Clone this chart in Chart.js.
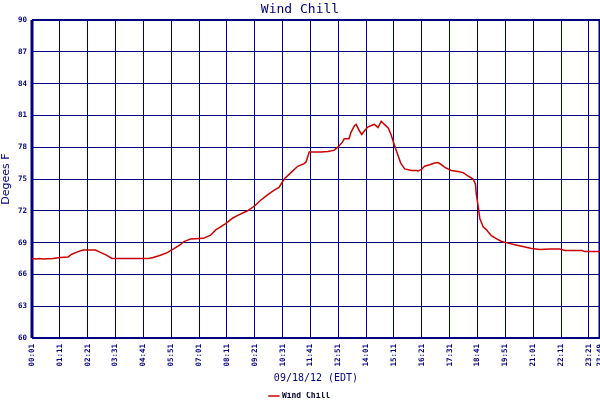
<!DOCTYPE html>
<html>
<head>
<meta charset="utf-8">
<script src="https://cdn.jsdelivr.net/npm/chart.js@4/dist/chart.umd.min.js"></script>
<style>
  html, body { margin: 0; padding: 0; background: #fff; }
  #wrap { width: 600px; height: 400px; }
</style>
</head>
<body>
<div id="wrap"><canvas id="wind-chill"></canvas></div>
<script>
// readings, 09/18/12
var times = ["00:01","00:12","00:20","00:28","00:54","01:12","01:32","01:41","01:57","02:10",
  "02:40","02:52","03:09","03:22","04:00","04:54","05:06","05:24","05:41","05:57",
  "06:14","06:23","06:40","07:12","07:30","07:43","08:08","08:25","08:37","09:03",
  "09:22","09:36","09:53","10:10","10:22","10:35","10:52","11:09","11:25","11:30",
  "11:38","12:08","12:25","12:40","12:50","13:02","13:06","13:18","13:23","13:32",
  "13:36","13:44","13:50","13:57","14:05","14:14","14:22","14:31","14:39","14:47",
  "14:57","15:04","15:12","15:21","15:28","15:38","15:55","16:07","16:12","16:20",
  "16:28","16:41","16:53","17:02","17:10","17:19","17:35","17:52","18:05","18:17",
  "18:30","18:36","18:38","18:43","18:47","18:51","18:55","19:04","19:08","19:16",
  "19:29","19:42","19:58","20:15","20:32","20:57","21:18","21:43","22:08","22:21",
  "23:03","23:11","23:49"];

var windChill = [67.5,67.45,67.5,67.45,67.5,67.6,67.65,67.9,68.15,68.3,
  68.3,68.1,67.8,67.5,67.5,67.5,67.6,67.8,68.05,68.4,
  68.8,69.1,69.35,69.4,69.7,70.2,70.8,71.3,71.55,72.0,
  72.5,73.0,73.5,73.95,74.2,75.0,75.6,76.2,76.45,76.6,
  77.55,77.55,77.6,77.7,78.0,78.5,78.8,78.8,79.4,80.05,
  80.15,79.55,79.2,79.55,79.9,80.05,80.15,79.85,80.45,80.15,
  79.8,79.15,78.2,77.25,76.5,75.95,75.8,75.8,75.75,75.9,
  76.2,76.35,76.5,76.55,76.35,76.1,75.8,75.7,75.6,75.3,
  75.0,74.5,73.6,72.35,71.25,70.9,70.5,70.2,70.0,69.65,
  69.35,69.1,68.95,68.8,68.65,68.45,68.35,68.4,68.4,68.25,
  68.25,68.15,68.15];

var tickLabels = ["00:01","01:11","02:21","03:31","04:41","05:51","07:01","08:11","09:21","10:31",
  "11:41","12:51","14:01","15:11","16:21","17:31","18:41","19:51","21:01","22:11","23:21","23:49"];

var navy = "#000080";
var mono = "'DejaVu Sans Mono', monospace";

function toMin(t){
    var p = t.split(":");
    return parseInt(p[0]) * 60 + parseInt(p[1]);
}
function toLabel(m){
    var h = Math.floor(m / 60), mm = m % 60;
    return (h < 10 ? "0" : "") + h + ":" + (mm < 10 ? "0" : "") + mm;
}

var points = [];
for (var i = 0; i < times.length; i++) {
    points.push({x: toMin(times[i]), y: windChill[i]});
}
var tickMins = tickLabels.map(toMin);

// heavy frame round the plot area
var frame = {
    id: "frame",
    beforeDatasetsDraw: function(chart){
        var a = chart.chartArea, c = chart.ctx;
        c.save();
        c.strokeStyle = navy;
        c.lineWidth = 3;
        c.beginPath();
        c.moveTo(a.left, a.top); c.lineTo(a.left, a.bottom);
        c.moveTo(a.right, a.top); c.lineTo(a.right, a.bottom);
        c.stroke();
        c.lineWidth = 2;
        c.beginPath();
        c.moveTo(a.left, a.top); c.lineTo(a.right, a.top);
        c.moveTo(a.left, a.bottom); c.lineTo(a.right, a.bottom);
        c.stroke();
        c.restore();
    }
};

var ctx = document.getElementById("wind-chill");
var chart = new Chart(ctx, {
    type: "line",
    data: {
        datasets: [{
            label: "Wind Chill",
            data: points,
            borderColor: "#cc0000",
            backgroundColor: "#cc0000",
            borderWidth: 1.5,
            pointRadius: 0,
            tension: 0,
            fill: false
        }]
    },
    options: {
        responsive: true,
        maintainAspectRatio: false,
        animation: false,
        layout: { padding: { top: 0, left: 0, right: 0, bottom: -10 } },
        plugins: {
            title: {
                display: true,
                text: "Wind Chill",
                color: navy,
                font: { family: mono, size: 13, weight: "normal" },
                padding: { top: 2, bottom: 2.4 }
            },
            legend: {
                position: "bottom",
                labels: {
                    color: "#000033",
                    font: { family: mono, size: 8, weight: "bold" },
                    usePointStyle: true,
                    pointStyle: "line",
                    boxWidth: 12,
                    padding: 0
                }
            },
            tooltip: { enabled: false }
        },
        scales: {
            x: {
                type: "linear",
                min: tickMins[0],
                max: tickMins[tickMins.length - 1],
                afterBuildTicks: function(s){
                    s.ticks = tickMins.map(function(v){ return {value: v}; });
                },
                afterFit: function(s){
                    s.height = 54;
                    s.paddingLeft = 0;
                    s.paddingRight = 0;
                },
                grid: { color: navy, lineWidth: 1, drawTicks: false },
                border: { display: false },
                ticks: {
                    autoSkip: false,
                    minRotation: 90,
                    maxRotation: 90,
                    padding: 6,
                    color: navy,
                    font: { family: mono, size: 7.5, weight: "bold" },
                    callback: function(v){ return toLabel(v); }
                },
                title: {
                    display: true,
                    text: "09/18/12 (EDT)",
                    color: navy,
                    font: { family: mono, size: 10 },
                    padding: { top: 0, bottom: 7.5 }
                }
            },
            y: {
                min: 60,
                max: 90,
                afterFit: function(s){ s.width = 32; },
                grid: { color: navy, lineWidth: 1, drawTicks: false },
                border: { display: false },
                ticks: {
                    stepSize: 3,
                    padding: 5,
                    color: navy,
                    font: { family: mono, size: 7.5, weight: "bold" }
                },
                title: {
                    display: true,
                    text: "Degees F",
                    color: navy,
                    font: { family: "'DejaVu Sans', sans-serif", size: 11 },
                    padding: 0
                }
            }
        }
    },
    plugins: [frame]
});
</script>
</body>
</html>
